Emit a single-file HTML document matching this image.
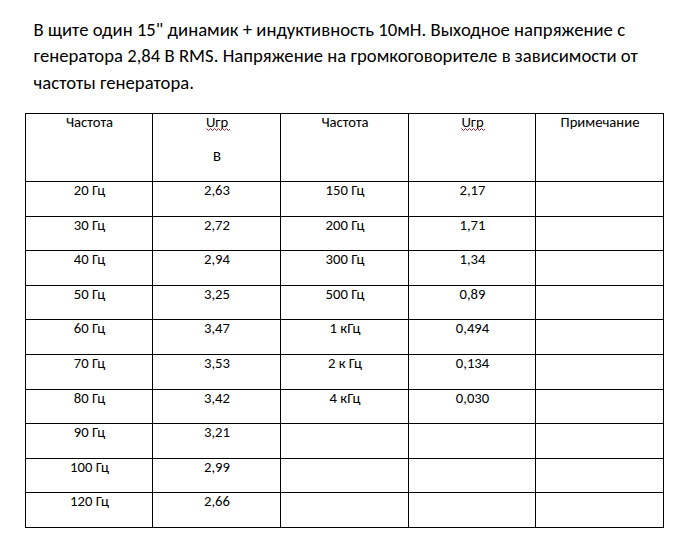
<!DOCTYPE html>
<html lang="ru"><head><meta charset="utf-8"><title>Напряжение на громкоговорителе</title>
<style>
html,body{margin:0;padding:0;background:#fff;}
body{width:685px;height:545px;position:relative;overflow:hidden;color:#000;
font-family:Carlito,"Liberation Sans",sans-serif;font-size-adjust:0.4775;}
.doc p{position:absolute;left:33.60px;margin:0;letter-spacing:0.025px;font-size:18.67px;line-height:26.20px;white-space:nowrap;}
table{position:absolute;left:25px;top:113px;border-collapse:collapse;table-layout:fixed;font-size:14.67px;line-height:20.00px;}
td{border:1px solid #000;padding:0;vertical-align:top;text-align:center;white-space:nowrap;}
td .t{display:block;position:relative;}
.u{position:relative;display:inline-block;}
.sq{position:absolute;left:0;top:16.01px;overflow:hidden;}
.sq polyline{fill:none;stroke:#b81c2c;stroke-width:1;}
</style></head><body>
<div class="doc">
<p style="top:16.52px">В щите один 15&quot; динамик + индуктивность 10мН. Выходное напряжение с</p>
<p style="top:42.72px">генератора 2,84 В RMS. Напряжение на громкоговорителе в зависимости от</p>
<p style="top:69.82px">частоты генератора.</p>
</div>
<table>
<colgroup><col style="width:127px"><col style="width:128px"><col style="width:128px"><col style="width:127px"><col style="width:128px"></colgroup>
<tr style="height:68px"><td><span class="t" style="top:-2.01px;left:0.5px">Частота</span></td><td><span class="t" style="top:-2.01px;left:0.5px"><span class="u">Uгр<svg class="sq" width="24" height="4" viewBox="0 0 24 4" aria-hidden="true"><polyline points="0.5,0.5 2.5,2.5 4.5,0.5 6.5,2.5 8.5,0.5 10.5,2.5 12.5,0.5 14.5,2.5 16.5,0.5 18.5,2.5 20.5,0.5 22.5,2.5 24.5,0.5"/></svg></span></span><span class="t" style="top:12.49px;left:0.5px">В</span></td><td><span class="t" style="top:-2.01px;left:0.5px">Частота</span></td><td><span class="t" style="top:-2.01px;left:0.5px"><span class="u">Uгр<svg class="sq" width="24" height="4" viewBox="0 0 24 4" aria-hidden="true"><polyline points="0.5,0.5 2.5,2.5 4.5,0.5 6.5,2.5 8.5,0.5 10.5,2.5 12.5,0.5 14.5,2.5 16.5,0.5 18.5,2.5 20.5,0.5 22.5,2.5 24.5,0.5"/></svg></span></span></td><td><span class="t" style="top:-2.01px;left:0.5px">Примечание</span></td></tr>
<tr style="height:35px"><td><span class="t" style="top:-2.01px;left:0.5px">20 Гц</span></td><td><span class="t" style="top:-2.01px;left:0.5px">2,63</span></td><td><span class="t" style="top:-2.01px;left:0.5px">150 Гц</span></td><td><span class="t" style="top:-2.01px;left:0.5px">2,17</span></td><td></td></tr>
<tr style="height:34px"><td><span class="t" style="top:-2.01px;left:0.5px">30 Гц</span></td><td><span class="t" style="top:-2.01px;left:0.5px">2,72</span></td><td><span class="t" style="top:-2.01px;left:0.5px">200 Гц</span></td><td><span class="t" style="top:-2.01px;left:0.5px">1,71</span></td><td></td></tr>
<tr style="height:35px"><td><span class="t" style="top:-2.01px;left:0.5px">40 Гц</span></td><td><span class="t" style="top:-2.01px;left:0.5px">2,94</span></td><td><span class="t" style="top:-2.01px;left:0.5px">300 Гц</span></td><td><span class="t" style="top:-2.01px;left:0.5px">1,34</span></td><td></td></tr>
<tr style="height:34px"><td><span class="t" style="top:-2.01px;left:0.5px">50 Гц</span></td><td><span class="t" style="top:-2.01px;left:0.5px">3,25</span></td><td><span class="t" style="top:-2.01px;left:0.5px">500 Гц</span></td><td><span class="t" style="top:-2.01px;left:0.5px">0,89</span></td><td></td></tr>
<tr style="height:35px"><td><span class="t" style="top:-2.01px;left:0.5px">60 Гц</span></td><td><span class="t" style="top:-2.01px;left:0.5px">3,47</span></td><td><span class="t" style="top:-2.01px;left:0.5px">1 кГц</span></td><td><span class="t" style="top:-2.01px;left:0.5px">0,494</span></td><td></td></tr>
<tr style="height:35px"><td><span class="t" style="top:-2.01px;left:0.5px">70 Гц</span></td><td><span class="t" style="top:-2.01px;left:0.5px">3,53</span></td><td><span class="t" style="top:-2.01px;left:0.5px">2 к Гц</span></td><td><span class="t" style="top:-2.01px;left:0.5px">0,134</span></td><td></td></tr>
<tr style="height:34px"><td><span class="t" style="top:-2.01px;left:0.5px">80 Гц</span></td><td><span class="t" style="top:-2.01px;left:0.5px">3,42</span></td><td><span class="t" style="top:-2.01px;left:0.5px">4 кГц</span></td><td><span class="t" style="top:-2.01px;left:0.5px">0,030</span></td><td></td></tr>
<tr style="height:35px"><td><span class="t" style="top:-2.01px;left:0.5px">90 Гц</span></td><td><span class="t" style="top:-2.01px;left:0.5px">3,21</span></td><td></td><td></td><td></td></tr>
<tr style="height:34px"><td><span class="t" style="top:-2.01px;left:0.5px">100 Гц</span></td><td><span class="t" style="top:-2.01px;left:0.5px">2,99</span></td><td></td><td></td><td></td></tr>
<tr style="height:35px"><td><span class="t" style="top:-2.01px;left:0.5px">120 Гц</span></td><td><span class="t" style="top:-2.01px;left:0.5px">2,66</span></td><td></td><td></td><td></td></tr>
</table>
</body></html>
